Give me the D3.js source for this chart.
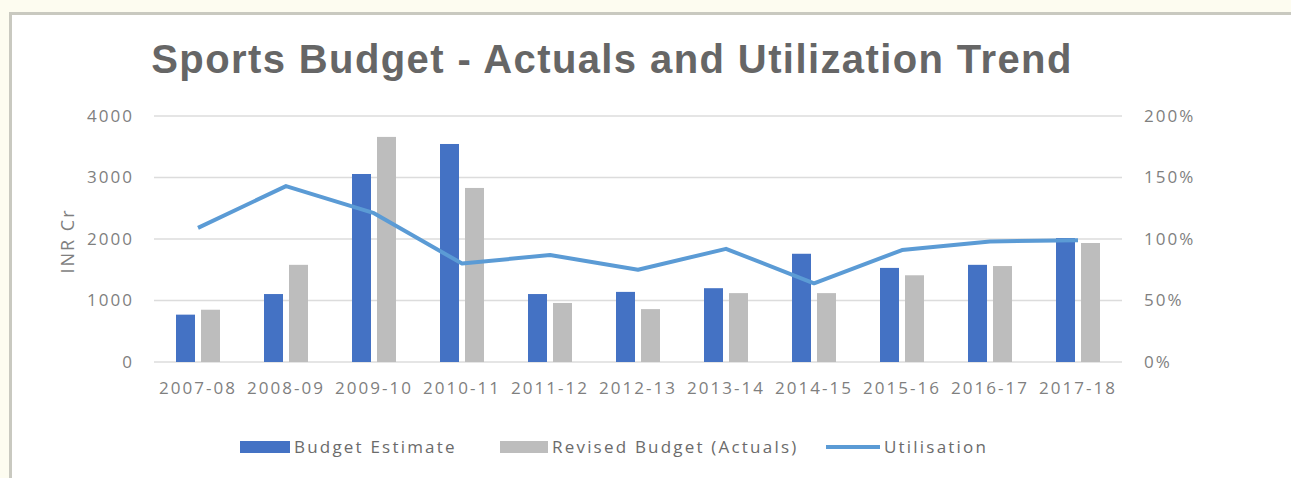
<!DOCTYPE html>
<html>
<head>
<meta charset="utf-8">
<script src="https://cdn.jsdelivr.net/npm/d3@7"></script>
<style>
  html, body { margin: 0; padding: 0; background: #fdfcf0; }
  svg { display: block; }
</style>
</head>
<body>
<script>
// chart data
var years = ["2007-08", "2008-09", "2009-10", "2010-11", "2011-12", "2012-13",
             "2013-14", "2014-15", "2015-16", "2016-17", "2017-18"];
var budget_estimate = [770, 1105, 3057, 3545, 1105, 1140, 1200, 1760, 1530, 1580, 2015];
var revised_budget  = [850, 1580, 3660, 2830, 960, 860, 1120, 1120, 1410, 1560, 1935];
var utilisation     = [1.09, 1.43, 1.21, 0.80, 0.87, 0.75, 0.92, 0.64, 0.91, 0.98, 0.99];
var left_ticks = [0, 1000, 2000, 3000, 4000];
var right_ticks = [0, 0.5, 1, 1.5, 2];

var series_names = ["Budget Estimate", "Revised Budget (Actuals)"];
var series_colors = ["#4472c4", "#bdbdbd"];
var line_color = "#5b9bd5";

var width = 1291, height = 478;
var margin = {left: 154, right: 169, top: 116, bottom: 116};

var svg = d3.select("body").append("svg")
            .attr("width", width).attr("height", height);

// panel with border
svg.append("rect")
   .attr("x", 10.5).attr("y", 13.5)
   .attr("width", width).attr("height", height)
   .attr("fill", "#ffffff")
   .attr("stroke", "#c9c9c0")
   .attr("stroke-width", 3);

// title
svg.append("text")
   .attr("x", 612).attr("y", 73)
   .attr("text-anchor", "middle")
   .attr("font-family", "Liberation Sans, Arial, sans-serif")
   .attr("font-weight", "bold")
   .attr("font-size", 40)
   .attr("letter-spacing", 1.4)
   .attr("fill", "#666666")
   .text("Sports Budget - Actuals and Utilization Trend");

var x = d3.scaleBand()
          .domain(years)
          .range([margin.left, width - margin.right])
          .paddingInner(0.5)
          .paddingOuter(0.25);

var xSub = d3.scaleBand()
             .domain([0, 1])
             .range([0, x.bandwidth()])
             .paddingInner(0.24);

var y = d3.scaleLinear()
          .domain([0, 4000])
          .range([height - margin.bottom, margin.top]);

var y2 = d3.scaleLinear()
           .domain([0, 2])
           .range([height - margin.bottom, margin.top]);

var tickFont = "Open Sans, sans-serif";

// gridlines
svg.append("g").selectAll("line.grid")
   .data(left_ticks).enter().append("line")
   .attr("class", "grid")
   .attr("x1", margin.left).attr("x2", width - margin.right)
   .attr("y1", function(d) { return y(d); })
   .attr("y2", function(d) { return y(d); })
   .attr("stroke", "#dcdcdc")
   .attr("stroke-width", 1.5);

// left axis
var leftAxis = svg.append("g")
   .attr("transform", "translate(" + (margin.left - 8) + ",0)")
   .call(d3.axisLeft(y).tickValues(left_ticks).tickSize(0).tickPadding(12)
           .tickFormat(d3.format("d")));
leftAxis.select(".domain").remove();

// right axis
var rightAxis = svg.append("g")
   .attr("transform", "translate(" + (width - margin.right + 8) + ",0)")
   .call(d3.axisRight(y2).tickValues(right_ticks).tickSize(0).tickPadding(14)
           .tickFormat(d3.format(".0%")));
rightAxis.select(".domain").remove();

// bottom axis
var bottomAxis = svg.append("g")
   .attr("transform", "translate(0," + (height - margin.bottom) + ")")
   .call(d3.axisBottom(x).tickSize(0).tickPadding(20));
bottomAxis.select(".domain").remove();

svg.selectAll(".tick text")
   .attr("font-family", tickFont)
   .attr("font-size", 17)
   .attr("letter-spacing", 2)
   .attr("fill", "#7f7f7f");

// y axis title
svg.append("text")
   .attr("transform", "translate(74,241) rotate(-90)")
   .attr("text-anchor", "middle")
   .attr("font-family", tickFont)
   .attr("font-size", 18)
   .attr("letter-spacing", 2)
   .attr("fill", "#7f7f7f")
   .text("INR Cr");

// bars
var seriesData = [budget_estimate, revised_budget];
var groups = svg.append("g").selectAll("g.year")
   .data(years).enter().append("g")
   .attr("class", "year")
   .attr("transform", function(d) { return "translate(" + x(d) + ",0)"; });

groups.selectAll("rect")
   .data(function(d, i) { return seriesData.map(function(s, k) { return {k: k, v: s[i]}; }); })
   .enter().append("rect")
   .attr("x", function(d) { return xSub(d.k); })
   .attr("width", xSub.bandwidth())
   .attr("y", function(d) { return y(d.v); })
   .attr("height", function(d) { return y(0) - y(d.v); })
   .attr("fill", function(d) { return series_colors[d.k]; });

// utilisation line
var line = d3.line()
   .x(function(d, i) { return x(years[i]) + x.bandwidth() / 2; })
   .y(function(d) { return y2(d); });

svg.append("path")
   .datum(utilisation)
   .attr("d", line)
   .attr("fill", "none")
   .attr("stroke", line_color)
   .attr("stroke-width", 4)
   .attr("stroke-linejoin", "round");

// legend
var legendY = 447;
var legend = svg.append("g");
var legendItems = [
  {label: series_names[0], type: "rect", color: series_colors[0], x: 240, w: 50},
  {label: series_names[1], type: "rect", color: series_colors[1], x: 500, w: 48},
  {label: "Utilisation", type: "line", color: line_color, x: 826, w: 54}
];

legendItems.forEach(function(d) {
  if (d.type == "rect")
  {
    legend.append("rect")
          .attr("x", d.x).attr("y", legendY - 6)
          .attr("width", d.w).attr("height", 12)
          .attr("fill", d.color);
  }
  else
  {
    legend.append("line")
          .attr("x1", d.x).attr("x2", d.x + d.w)
          .attr("y1", legendY).attr("y2", legendY)
          .attr("stroke", d.color)
          .attr("stroke-width", 4);
  }
  legend.append("text")
        .attr("x", d.x + d.w + 4)
        .attr("y", legendY + 6)
        .attr("font-family", tickFont)
        .attr("font-size", 17)
        .attr("letter-spacing", 2.2)
        .attr("fill", "#6b6b6b")
        .text(d.label);
});
</script>
</body>
</html>
